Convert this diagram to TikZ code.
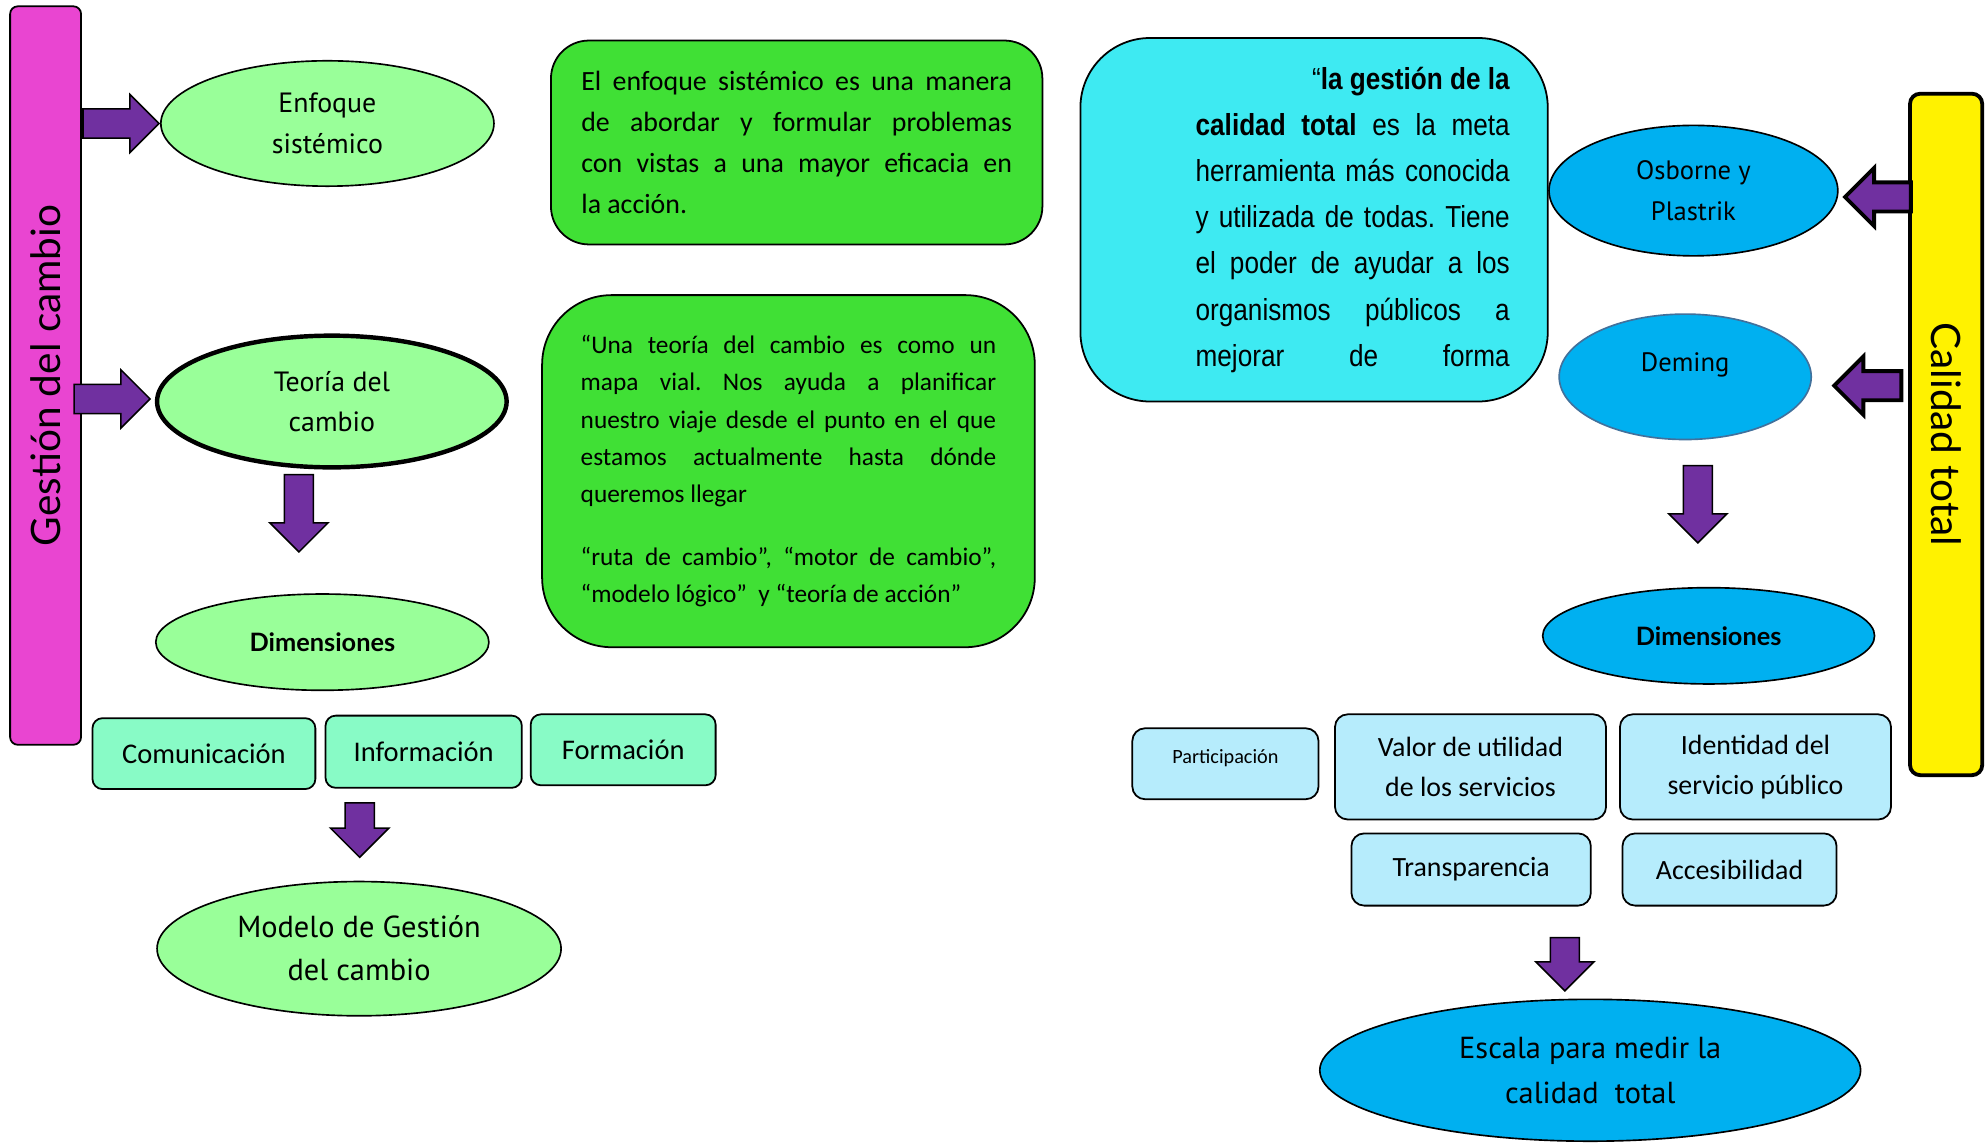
\documentclass[tikz,border=0pt]{standalone}
\usepackage{fontspec}
\usetikzlibrary{shapes.geometric,calc}
\newfontfamily\tempus{PT Sans}
\newfontfamily\gill{Lato}
\newfontfamily\calib{Carlito}
\newfontfamily\arialn[FakeStretch=0.86]{Liberation Sans}
\frenchspacing
\definecolor{gcpink}{HTML}{E945D1}
\definecolor{lgreen}{HTML}{99FF99}
\definecolor{vgreen}{HTML}{40E035}
\definecolor{mint}{HTML}{88FBC6}
\definecolor{arrowpurple}{HTML}{7030A0}
\definecolor{aqua}{HTML}{3EEAF2}
\definecolor{skyblue}{HTML}{00B0F0}
\definecolor{demborder}{HTML}{41719C}
\definecolor{paleblue}{HTML}{B6ECFC}
\tikzset{
  blockarr/.pic={
    \draw[fill=arrowpurple,line join=miter]
      (-#1/2,-11.5) -- (#1/2-23,-11.5) -- (#1/2-23,-23) -- (#1/2,0)
      -- (#1/2-23,23) -- (#1/2-23,11.5) -- (-#1/2,11.5) -- cycle;
  }
}
\begin{document}
\begin{tikzpicture}[x=1pt,y=-1pt,
  sidebar/.style={draw,line width=1.4pt,rounded corners=6pt,inner sep=0pt},
  barlabel/.style={font=\gill\fontsize{32}{34}\selectfont},
  ell/.style={ellipse,draw,line width=1.3pt,inner sep=0pt,align=center},
  greenell/.style={ell,fill=lgreen,font=\tempus\fontsize{22}{32}\selectfont},
  blueell/.style={ell,fill=skyblue,font=\tempus\fontsize{21}{32}\selectfont},
  dimell/.style={font=\gill\bfseries\fontsize{20}{24}\selectfont},
  textbox/.style={draw,line width=1.4pt,inner sep=0pt,align=justify},
  mintbox/.style={draw,line width=1.4pt,rounded corners=8pt,inner sep=0pt,
    fill=mint,font=\calib\fontsize{22.5}{25}\selectfont},
  palebox/.style={draw,line width=1.4pt,rounded corners=10pt,inner sep=0pt,
    fill=paleblue,align=center,font=\calib\fontsize{22}{32}\selectfont},
  thinarr/.style={line width=1.2pt},
  heavyarr/.style={line width=3pt}
]
\path[use as bounding box,fill=white] (0,0) rectangle (1568,904);

% left column: gestion del cambio
\node[sidebar,fill=gcpink,minimum width=56,minimum height=583,
  label={[barlabel,rotate=90]center:Gestión del cambio}] (gest) at (36,296.5) {};
\node[greenell,minimum width=263,minimum height=99] (enf) at (258.5,97.5) {Enfoque\\sistémico};
\node[greenell,line width=3.5pt,minimum width=276,minimum height=104] (teo) at (262,317) {Teoría del\\cambio};
\node[greenell,dimell,minimum width=263,minimum height=76] (dimL) at (254.5,507) {Dimensiones};
\node[mintbox,minimum width=176,minimum height=56] (com) at (161,595) {Comunicación};
\node[mintbox,minimum width=155,minimum height=57] (inf) at (334.5,593.5) {Información};
\node[mintbox,minimum width=146,minimum height=56] (form) at (492,592) {Formación};
\node[greenell,font=\tempus\fontsize{24}{34}\selectfont,minimum width=319,minimum height=106] (mod) at (283.5,749) {Modelo de Gestión\\del cambio};

\pic[thinarr] at ($(gest.east|-enf)!.5!(enf.west)$) {blockarr=60};
\pic[thinarr] at ($(gest.east|-teo)!.5!(teo.west)+(-5,-2)$) {blockarr=60};
\pic[thinarr,rotate=-90] at ($(teo.south)+(-26,34.5)$) {blockarr=61};
\pic[thinarr,rotate=-90] at ($(mod.north)+(0.5,-40)$) {blockarr=43};

% middle: green text boxes
\node[textbox,fill=vgreen,rounded corners=30pt,minimum width=388,minimum height=161,
  text width=340pt,font=\calib\fontsize{22}{32.5}\selectfont] (sist) at (629,112.5) {%
  \makebox[\hsize][s]{El enfoque sistémico es una manera}\\
  \makebox[\hsize][s]{de abordar y formular problemas}\\
  \makebox[\hsize][s]{con vistas a una mayor eficacia en}\\
  la acción.};
\node[textbox,fill=vgreen,rounded corners=55pt,minimum width=389,minimum height=278,
  text width=328pt,font=\calib\fontsize{20}{29.5}\selectfont] (mapa) at (622.5,372) {%
  \makebox[\hsize][s]{“Una teoría del cambio es como un}\\
  \makebox[\hsize][s]{mapa vial. Nos ayuda a planificar}\\
  \makebox[\hsize][s]{nuestro viaje desde el punto en el que}\\
  \makebox[\hsize][s]{estamos actualmente hasta dónde}\\
  queremos llegar\\[20pt]
  \makebox[\hsize][s]{“ruta de cambio”, “motor de cambio”,}\\
  “modelo lógico”~~y “teoría de acción”};

% right column: calidad total
\node[textbox,fill=aqua,rounded corners=55pt,minimum width=369,minimum height=287,
  text width=309pt,inner xsep=30pt,
  font=\arialn\fontsize{24}{36.5}\selectfont] (cttext) at (1037.5,173.5) {%
  \hfill\begin{minipage}{248pt}
  \makebox[\hsize][s]{\hfill“\textbf{la gestión de la}}\\
  \makebox[\hsize][s]{\textbf{calidad total} es la meta}\\
  \makebox[\hsize][s]{herramienta más conocida}\\
  \makebox[\hsize][s]{y utilizada de todas. Tiene}\\
  \makebox[\hsize][s]{el poder de ayudar a los}\\
  \makebox[\hsize][s]{organismos públicos a}\\
  \makebox[\hsize][s]{mejorar de forma}
  \end{minipage}};
\node[sidebar,fill=yellow,line width=3pt,rounded corners=8pt,minimum width=57,minimum height=538,
  label={[barlabel,rotate=-90]center:Calidad total}] (cal) at (1536.5,343) {};
\node[blueell,minimum width=228,minimum height=103] (osb) at (1337,150.5) {Osborne y\\Plastrik};
\node[blueell,draw=demborder,minimum width=199,minimum height=99] (dem) at (1330.5,297.5) {\raisebox{24pt}{Deming}};
\node[blueell,dimell,minimum width=262,minimum height=76] (dimR) at (1349,502) {Dimensiones};
\node[palebox,font=\calib\fontsize{16}{18}\selectfont,minimum width=147,minimum height=56] (par) at (967.5,603) {\raisebox{12pt}{Participación}};
\node[palebox,minimum width=214,minimum height=83] (val) at (1161,605.5) {Valor de utilidad\\de los servicios};
\node[palebox,minimum width=214,minimum height=83] (ide) at (1386,605.5) {Identidad del\\servicio público};
\node[palebox,minimum width=189,minimum height=57] (tra) at (1161.5,686.5) {Transparencia};
\node[palebox,minimum width=169,minimum height=57] (acc) at (1365.5,686.5) {Accesibilidad};
\node[blueell,font=\tempus\fontsize{24}{35}\selectfont,minimum width=427,minimum height=112] (esc) at (1255.5,845) {Escala para medir la\\calidad~~total};

\pic[heavyarr,rotate=180] at ($(osb.east)+(31,5)$) {blockarr=52};
\pic[heavyarr,rotate=180] at ($(dem.east)+(44,7)$) {blockarr=53};
\pic[thinarr,rotate=-90] at ($(dem.south)+(10,50.5)$) {blockarr=61};
\pic[thinarr,rotate=-90] at ($(esc.north)+(-20,-27)$) {blockarr=42};
\end{tikzpicture}
\end{document}
